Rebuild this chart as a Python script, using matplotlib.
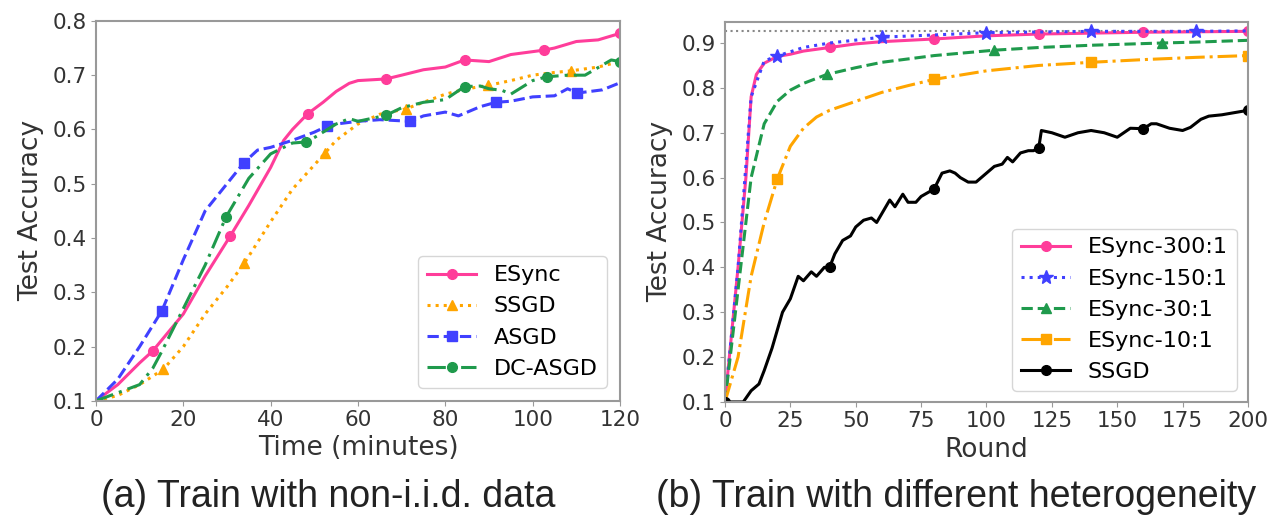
import matplotlib
matplotlib.use('Agg')
import matplotlib.pyplot as plt
import numpy as np

### Panel (a): accuracy over time, non-i.i.d. data
time_esync = [0, 5, 10, 13, 20, 25, 30.7, 35, 40, 43, 45, 48.5, 52, 55, 58, 60, 66.4, 70, 75, 80, 84.4, 90, 95, 102.5, 105, 110, 115, 120]
acc_esync  = [0.1, 0.13, 0.17, 0.192, 0.26, 0.33, 0.403, 0.46, 0.53, 0.58, 0.60, 0.629, 0.65, 0.67, 0.685, 0.69, 0.693, 0.70, 0.71, 0.715, 0.728, 0.725, 0.738, 0.746, 0.75, 0.762, 0.765, 0.777]
mark_esync = [13, 30.7, 48.5, 66.4, 84.4, 102.5, 120]

time_ssgd = [0, 5, 10, 15.4, 20, 25, 30, 34, 40, 45, 52.4, 55, 60, 65, 71, 75, 80, 85, 89.7, 95, 100, 105, 108.8, 115, 120]
acc_ssgd  = [0.1, 0.11, 0.13, 0.158, 0.20, 0.26, 0.31, 0.354, 0.43, 0.49, 0.556, 0.58, 0.61, 0.628, 0.638, 0.65, 0.665, 0.675, 0.681, 0.69, 0.70, 0.705, 0.708, 0.715, 0.725]
mark_ssgd = [15.4, 34, 52.4, 71, 89.7, 108.8]

time_asgd = [0, 5, 10, 15.1, 20, 25, 30, 33.9, 37, 40, 45, 50, 52.9, 55, 60, 65, 72, 75, 80, 83, 88, 91.6, 95, 100, 105, 108, 110.2, 116, 120]
acc_asgd  = [0.1, 0.14, 0.20, 0.266, 0.36, 0.45, 0.50, 0.539, 0.562, 0.567, 0.58, 0.595, 0.606, 0.61, 0.615, 0.618, 0.615, 0.625, 0.632, 0.625, 0.642, 0.65, 0.652, 0.66, 0.662, 0.675, 0.667, 0.673, 0.686]
mark_asgd = [15.1, 33.9, 52.9, 72, 91.6, 110.2]

time_dc = [0, 5, 10, 13, 15, 20, 25, 29.8, 35, 40, 45, 48.2, 50, 55, 58, 60, 66.4, 70, 75, 80, 84.4, 88, 90, 93, 95, 100, 103.2, 108, 112, 118, 120]
acc_dc  = [0.1, 0.115, 0.13, 0.16, 0.19, 0.27, 0.35, 0.439, 0.51, 0.555, 0.575, 0.577, 0.585, 0.61, 0.62, 0.615, 0.626, 0.64, 0.65, 0.655, 0.679, 0.68, 0.675, 0.672, 0.665, 0.69, 0.697, 0.70, 0.70, 0.728, 0.725]
mark_dc = [29.8, 48.2, 66.4, 84.4, 103.2, 120]

### Panel (b): accuracy over rounds, different heterogeneity
rnd_300 = [0, 5, 8, 10, 12, 15, 20, 25, 30, 40, 50, 60, 80, 100, 120, 140, 160, 180, 200]
acc_300 = [0.1, 0.4, 0.6, 0.78, 0.83, 0.855, 0.87, 0.875, 0.882, 0.89, 0.898, 0.903, 0.909, 0.916, 0.92, 0.922, 0.924, 0.925, 0.926]
mark_300 = [40, 80, 120, 160, 200]

rnd_150 = [0, 5, 10, 15, 20, 30, 40, 60, 80, 100, 140, 180, 200]
acc_150 = [0.1, 0.4, 0.78, 0.86, 0.871, 0.89, 0.90, 0.913, 0.918, 0.923, 0.926, 0.926, 0.927]
mark_150 = [20, 60, 100, 140, 180]

rnd_30 = [0, 5, 10, 15, 20, 25, 30, 39, 50, 60, 80, 103, 120, 140, 167, 180, 200]
acc_30 = [0.1, 0.35, 0.6, 0.72, 0.77, 0.795, 0.81, 0.83, 0.845, 0.857, 0.872, 0.884, 0.89, 0.895, 0.90, 0.902, 0.906]
mark_30 = [39, 103, 167]

rnd_10 = [0, 5, 10, 15, 20, 25, 30, 35, 40, 50, 60, 70, 80, 100, 120, 140, 160, 180, 200]
acc_10 = [0.1, 0.2, 0.38, 0.5, 0.597, 0.67, 0.71, 0.735, 0.75, 0.77, 0.79, 0.805, 0.819, 0.838, 0.85, 0.857, 0.863, 0.868, 0.872]
mark_10 = [20, 80, 140, 200]

rnd_ssgd = [0, 5, 7, 10, 13, 15, 18, 20, 22, 25, 28, 30, 33, 35, 38, 40, 42, 45, 48, 50, 53, 56, 58, 60, 63, 65, 68, 70, 73, 75, 78, 80, 83, 86, 88, 90, 93, 96, 100, 103, 106, 108, 110, 113, 116, 118, 120, 121, 125, 130, 135, 140, 145, 150, 155, 160, 163, 165, 170, 175, 178, 182, 185, 190, 195, 200]
acc_ssgd_b = [0.1, 0.1, 0.1, 0.125, 0.14, 0.17, 0.22, 0.26, 0.30, 0.33, 0.38, 0.37, 0.39, 0.38, 0.40, 0.40, 0.43, 0.46, 0.47, 0.49, 0.505, 0.51, 0.50, 0.52, 0.55, 0.535, 0.563, 0.545, 0.545, 0.558, 0.568, 0.575, 0.61, 0.615, 0.61, 0.60, 0.59, 0.59, 0.61, 0.625, 0.63, 0.645, 0.635, 0.655, 0.66, 0.66, 0.667, 0.705, 0.70, 0.69, 0.70, 0.705, 0.70, 0.69, 0.71, 0.709, 0.72, 0.72, 0.71, 0.705, 0.712, 0.73, 0.737, 0.74, 0.745, 0.75]
mark_ssgd_b = [0, 40, 80, 120, 160, 200]

baseline = 0.927

pink   = '#ff3d9a'
orange = '#ffa500'
blue   = '#4040ff'
green  = '#1f9a4c'

plt.rcParams['font.family'] = 'DejaVu Sans'
plt.rcParams['axes.edgecolor'] = '#999999'
plt.rcParams['axes.linewidth'] = 1.5
plt.rcParams['xtick.color'] = '#999999'
plt.rcParams['ytick.color'] = '#999999'
plt.rcParams['xtick.labelcolor'] = '#333333'
plt.rcParams['ytick.labelcolor'] = '#333333'


def marks(x, mx):
	x = np.asarray(x, dtype=float)
	return [int(np.argmin(np.abs(x - m))) for m in mx]


fig = plt.figure(figsize=(12.71, 5.22), dpi=100)
ax1 = fig.add_axes([0.0755, 0.232, 0.4123, 0.728])
ax2 = fig.add_axes([0.5704, 0.230, 0.4115, 0.728])

lw = 2.2
ms = 7

ax1.plot(time_esync, acc_esync, '-',  color=pink,   lw=lw, marker='o', ms=ms, markevery=marks(time_esync, mark_esync), label='ESync')
ax1.plot(time_ssgd,  acc_ssgd,  ':',  color=orange, lw=lw, marker='^', ms=ms, markevery=marks(time_ssgd, mark_ssgd), label='SSGD')
ax1.plot(time_asgd,  acc_asgd,  '--', color=blue,   lw=lw, marker='s', ms=ms, markevery=marks(time_asgd, mark_asgd), label='ASGD')
ax1.plot(time_dc,    acc_dc,    color=green, lw=lw, ls=(0, (6, 2, 1, 2)), marker='o', ms=ms, markevery=marks(time_dc, mark_dc), label='DC-ASGD')

ax1.set_xlim(0, 120)
ax1.set_ylim(0.1, 0.8)
ax1.set_xticks(np.arange(0, 121, 20))
ax1.set_yticks(np.arange(0.1, 0.81, 0.1))
ax1.set_xlabel('Time (minutes)', fontsize=19, color='#333333', labelpad=4)
ax1.set_ylabel('Test Accuracy', fontsize=19, color='#333333', labelpad=6)
ax1.tick_params(labelsize=15.5, pad=3)
ax1.legend(loc='lower right', fontsize=16, borderaxespad=0.6, handlelength=2.2)

ax2.axhline(baseline, color='#888888', ls=':', lw=1.5)
ax2.plot(rnd_300,  acc_300,    '-',  color=pink,   lw=lw, marker='o', ms=ms, markevery=marks(rnd_300, mark_300), label='ESync-300:1')
ax2.plot(rnd_150,  acc_150,    ':',  color=blue,   lw=lw, marker='*', ms=ms + 3, markevery=marks(rnd_150, mark_150), label='ESync-150:1')
ax2.plot(rnd_30,   acc_30,     '--', color=green,  lw=lw, marker='^', ms=ms, markevery=marks(rnd_30, mark_30), label='ESync-30:1')
ax2.plot(rnd_10,   acc_10,     '-.', color=orange, lw=lw, marker='s', ms=ms, markevery=marks(rnd_10, mark_10), label='ESync-10:1')
ax2.plot(rnd_ssgd, acc_ssgd_b, '-',  color='black', lw=lw, marker='o', ms=ms, markevery=marks(rnd_ssgd, mark_ssgd_b), label='SSGD')

ax2.set_xlim(0, 200)
ax2.set_ylim(0.1, 0.947)
ax2.set_xticks(np.arange(0, 201, 25))
ax2.set_yticks(np.arange(0.1, 0.91, 0.1))
ax2.set_xlabel('Round', fontsize=19, color='#333333', labelpad=4)
ax2.set_ylabel('Test Accuracy', fontsize=19, color='#333333', labelpad=6)
ax2.tick_params(labelsize=15.5, pad=3)
ax2.legend(loc='lower right', fontsize=16, borderaxespad=0.5, handlelength=2.2)

for ax in (ax1, ax2):
	ax.yaxis.set_major_formatter(matplotlib.ticker.FormatStrFormatter('%.1f'))

fig.text(0.258, 0.048, '(a) Train with non-i.i.d. data', ha='center', va='center', fontsize=27, family='Liberation Sans', color='#222222')
fig.text(0.752, 0.048, '(b) Train with different heterogeneity', ha='center', va='center', fontsize=27, family='Liberation Sans', color='#222222')

fig.savefig('out.png', dpi=100)
